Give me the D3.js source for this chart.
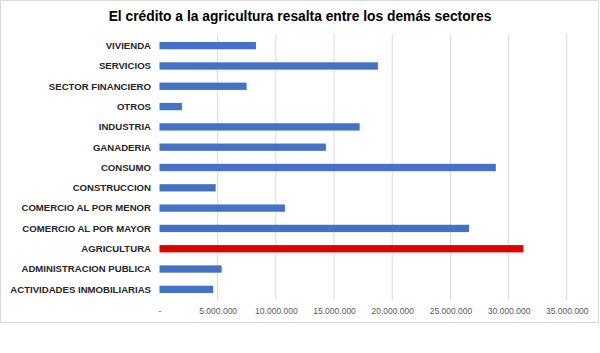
<!DOCTYPE html>
<html>
<head>
<meta charset="utf-8">
<script src="https://cdn.jsdelivr.net/npm/d3@7"></script>
<style>
  body { margin: 0; background: #fff; }
  svg { display: block; font-family: "Liberation Sans", Arial, sans-serif; }
</style>
</head>
<body>
<svg id="chart" width="600" height="353"></svg>
<script>
// valores
const sectores = [
  "VIVIENDA", "SERVICIOS", "SECTOR FINANCIERO", "OTROS", "INDUSTRIA",
  "GANADERIA", "CONSUMO", "CONSTRUCCION", "COMERCIO AL POR MENOR",
  "COMERCIO AL POR MAYOR", "AGRICULTURA", "ADMINISTRACION PUBLICA",
  "ACTIVIDADES INMOBILIARIAS"
];
const creditos = [
  8290000, 18770000, 7490000, 1930000, 17200000,
  14300000, 28900000, 4830000, 10780000,
  26600000, 31260000, 5340000, 4620000
];
const destacado = "AGRICULTURA";
const ticks = [0, 5000000, 10000000, 15000000, 20000000, 25000000, 30000000, 35000000];
const titulo = "El crédito a la agricultura resalta entre los demás sectores";

const svg = d3.select("#chart");

// marco del gráfico
svg.append("rect")
  .attr("x", 0.5).attr("y", 0.5)
  .attr("width", 598).attr("height", 322)
  .attr("fill", "#fff")
  .attr("stroke", "#d9d9d9");

svg.append("text")
  .attr("x", 300).attr("y", 21)
  .attr("text-anchor", "middle")
  .style("font-size", "13.8px")
  .style("font-weight", "bold")
  .style("fill", "#000")
  .text(titulo);

const x = d3.scaleLinear().domain([0, 35000000]).range([159.5, 566.8]);
const y = d3.scaleBand().domain(sectores).range([35.5, 299.5]).paddingInner(0.64).paddingOuter(0.32);

// líneas de cuadrícula
svg.append("g")
  .selectAll("line")
  .data(ticks.slice(1))
  .join("line")
  .attr("x1", d => x(d)).attr("x2", d => x(d))
  .attr("y1", 34).attr("y2", 300)
  .attr("stroke", "#d9d9d9")
  .attr("stroke-width", 1);

// barras
svg.append("g")
  .selectAll("rect")
  .data(sectores)
  .join("rect")
  .attr("x", x(0))
  .attr("y", d => y(d))
  .attr("width", (d, i) => x(creditos[i]) - x(0))
  .attr("height", y.bandwidth())
  .attr("fill", d => d === destacado ? "#e00000" : "#4472c4");

// etiquetas de categoría
svg.append("g")
  .selectAll("text")
  .data(sectores)
  .join("text")
  .attr("x", 151)
  .attr("y", d => y(d) + y.bandwidth() / 2)
  .attr("dy", "0.35em")
  .attr("text-anchor", "end")
  .style("font-size", "9.6px")
  .style("font-weight", "bold")
  .style("fill", "#262626")
  .text(d => d);

// eje x
const fmt = d => d === 0 ? "-" : d3.format(",")(d).replace(/,/g, ".");
svg.append("g")
  .attr("transform", "translate(0,300)")
  .call(d3.axisBottom(x).tickValues(ticks).tickFormat(fmt).tickSize(0).tickPadding(8))
  .call(g => g.select(".domain").remove())
  .call(g => g.selectAll("text")
    .style("font-family", "'Liberation Sans', Arial, sans-serif")
    .style("font-size", "8.5px")
    .style("fill", "#595959"));
</script>
</body>
</html>
